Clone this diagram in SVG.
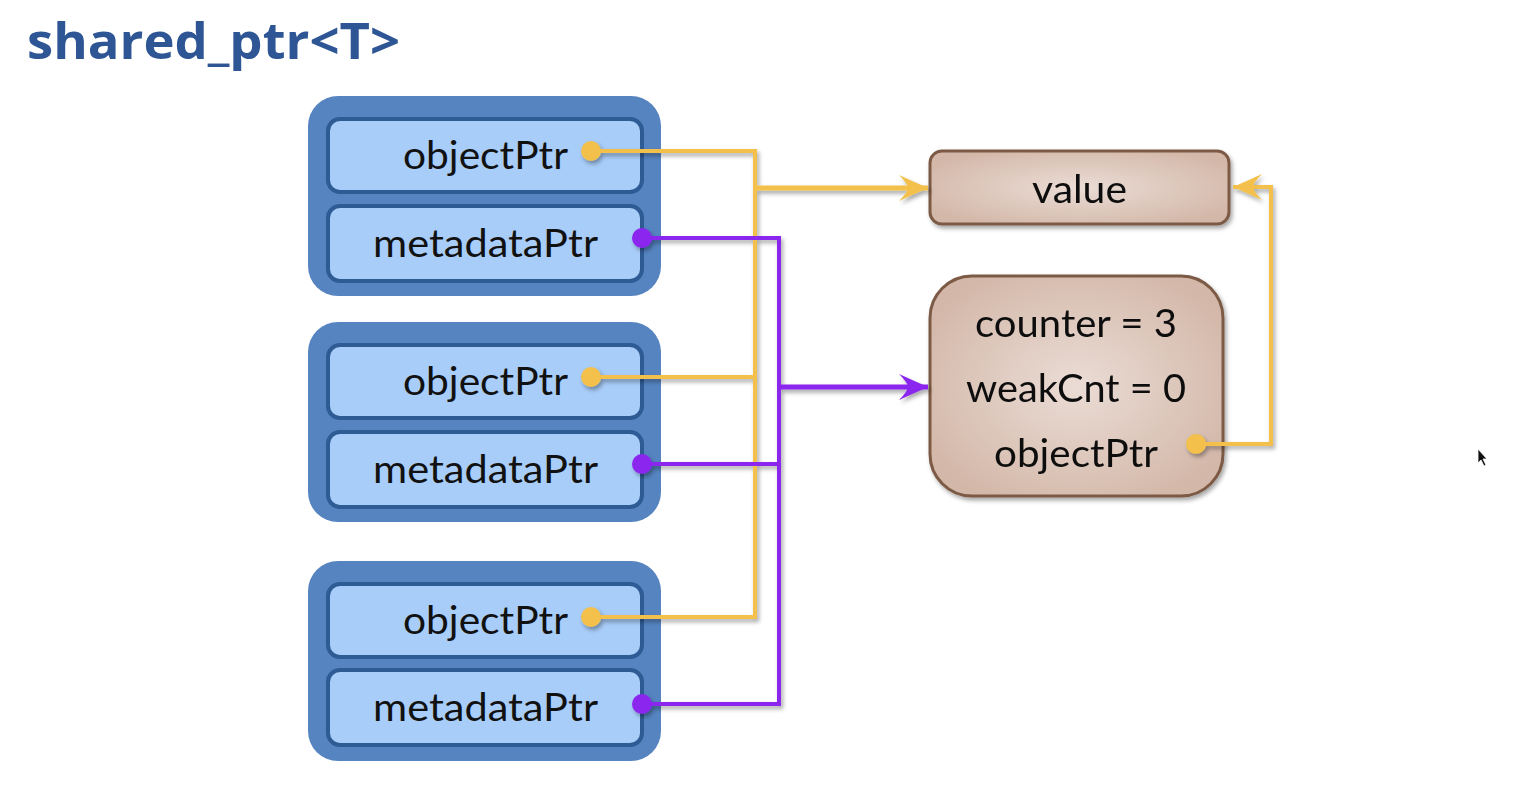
<svg xmlns="http://www.w3.org/2000/svg" width="1534" height="788" viewBox="0 0 1534 788">
<defs>
<style>
.outer{fill:#5584c1}
.inner{fill:#a8cdf9;stroke:#2f5b94;stroke-width:4}
.lbl{font-family:Lato,"Open Sans","Liberation Sans",sans-serif;font-size:38px;fill:#111}
.brown{fill:url(#bg);stroke:#7b5a45;stroke-width:3}
.y{fill:none;stroke:#f2c04b;stroke-width:4}
.ya{fill:none;stroke:#f2c04b;stroke-width:5}
.p{fill:none;stroke:#8a25ee;stroke-width:4}
.pa{fill:none;stroke:#8a25ee;stroke-width:5}
</style>
<radialGradient id="bg" cx="50%" cy="50%" r="60%">
<stop offset="0" stop-color="#eadcd5"/>
<stop offset="1" stop-color="#d3b7a8"/>
</radialGradient>
<filter id="sh" x="-10%" y="-10%" width="130%" height="130%">
<feDropShadow dx="2" dy="3" stdDeviation="2" flood-color="#000" flood-opacity="0.35"/>
</filter>
<marker id="ay" markerUnits="userSpaceOnUse" markerWidth="32" markerHeight="28" refX="30" refY="13" orient="auto" viewBox="0 0 32 28">
<path d="M30,13 Q14,6 1,0 Q10,9 10,13 Q10,17 1,26 Q14,20 30,13 Z" fill="#f2c04b"/>
</marker>
<marker id="ap" markerUnits="userSpaceOnUse" markerWidth="32" markerHeight="28" refX="30" refY="13" orient="auto" viewBox="0 0 32 28">
<path d="M30,13 Q14,6 1,0 Q10,9 10,13 Q10,17 1,26 Q14,20 30,13 Z" fill="#8a25ee"/>
</marker>
</defs>
<rect width="1534" height="788" fill="#ffffff"/>
<text id="title" x="27" y="59" font-family="'Open Sans',Lato,'Liberation Sans',sans-serif" font-weight="bold" font-size="50" fill="#2e5694" textLength="373" lengthAdjust="spacingAndGlyphs">shared_ptr&lt;T&gt;</text>

<g id="sp1">
<rect class="outer" x="308" y="96" width="353" height="200" rx="30"/>
<rect class="inner" x="328" y="119" width="314" height="73" rx="12"/>
<rect class="inner" x="328" y="206" width="314" height="75" rx="12"/>
<text class="lbl" x="403" y="169" textLength="165" lengthAdjust="spacingAndGlyphs">objectPtr</text>
<text class="lbl" x="373" y="257" textLength="225" lengthAdjust="spacingAndGlyphs">metadataPtr</text>
</g>
<g id="sp2">
<rect class="outer" x="308" y="322" width="353" height="200" rx="30"/>
<rect class="inner" x="328" y="345" width="314" height="73" rx="12"/>
<rect class="inner" x="328" y="432" width="314" height="75" rx="12"/>
<text class="lbl" x="403" y="395" textLength="165" lengthAdjust="spacingAndGlyphs">objectPtr</text>
<text class="lbl" x="373" y="483" textLength="225" lengthAdjust="spacingAndGlyphs">metadataPtr</text>
</g>
<g id="sp3">
<rect class="outer" x="308" y="561" width="353" height="200" rx="30"/>
<rect class="inner" x="328" y="584" width="314" height="73" rx="12"/>
<rect class="inner" x="328" y="670" width="314" height="75" rx="12"/>
<text class="lbl" x="403" y="634" textLength="165" lengthAdjust="spacingAndGlyphs">objectPtr</text>
<text class="lbl" x="373" y="721" textLength="225" lengthAdjust="spacingAndGlyphs">metadataPtr</text>
</g>

<g id="value" filter="url(#sh)">
<rect class="brown" x="930" y="151" width="299" height="73" rx="12"/>
<text class="lbl" x="1032" y="203" textLength="95" lengthAdjust="spacingAndGlyphs">value</text>
</g>
<g id="metadata" filter="url(#sh)">
<rect class="brown" x="930" y="276" width="293" height="220" rx="42"/>
<text class="lbl" x="975" y="337" textLength="202" lengthAdjust="spacingAndGlyphs">counter = 3</text>
<text class="lbl" x="966" y="402" textLength="220" lengthAdjust="spacingAndGlyphs">weakCnt = 0</text>
<text class="lbl" x="994" y="467" textLength="164" lengthAdjust="spacingAndGlyphs">objectPtr</text>
</g>

<g id="connectors" filter="url(#sh)">
<path class="y" d="M591,151 H755 V617 H591"/>
<path class="y" d="M591,377 H755"/>
<path class="ya" d="M755,188 H928" marker-end="url(#ay)"/>
<path class="y" d="M1196,444 H1271 V187 H1233" marker-end="url(#ay)"/>
<path class="p" d="M642,238 H779 V704 H642"/>
<path class="p" d="M642,464 H779"/>
<path class="pa" d="M779,387 H928" marker-end="url(#ap)"/>
<circle cx="591" cy="151" r="10" fill="#f2c04b"/>
<circle cx="591" cy="377" r="10" fill="#f2c04b"/>
<circle cx="591" cy="617" r="10" fill="#f2c04b"/>
<circle cx="1196" cy="444" r="10" fill="#f2c04b"/>
<circle cx="642" cy="238" r="10" fill="#8a25ee"/>
<circle cx="642" cy="464" r="10" fill="#8a25ee"/>
<circle cx="642" cy="704" r="10" fill="#8a25ee"/>
</g>

<polygon id="cursor" points="1478,449 1478,463 1481,460 1484,466 1486,465 1483,459 1487,459" fill="#111" stroke="#fff" stroke-width="0.8"/>
</svg>
